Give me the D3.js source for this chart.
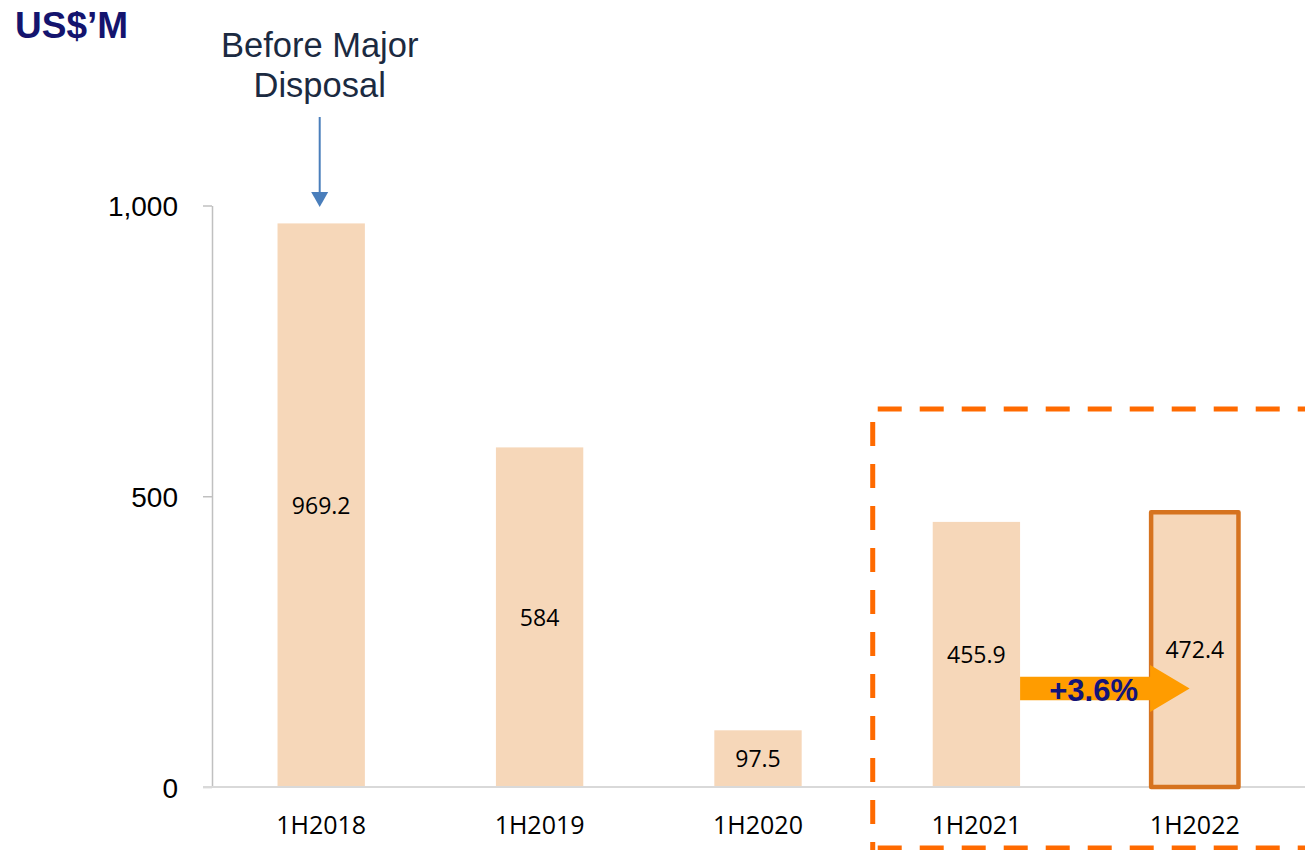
<!DOCTYPE html>
<html>
<head>
<meta charset="utf-8">
<script src="https://cdn.jsdelivr.net/npm/d3@7"></script>
<style>
  html, body { margin: 0; padding: 0; background: #fff; }
  svg { display: block; }
</style>
</head>
<body>
<svg id="chart" width="1305" height="850"></svg>
<script>
// ---- data ----
const categories = ["1H2018", "1H2019", "1H2020", "1H2021", "1H2022"];
const values = [969.2, 584, 97.5, 455.9, 472.4];
const valueLabels = ["969.2", "584", "97.5", "455.9", "472.4"];
const yTicks = [0, 500, 1000];
const unitLabel = "US$\u2019M";
const annotationLines = ["Before Major", "Disposal"];
const growthLabel = "+3.6%";

// ---- layout ----
const svg = d3.select("#chart");
const plotLeft = 212, plotRight = 1304, plotBottom = 787, plotTop = 205.5;

const x = d3.scaleBand().domain(categories).range([plotLeft, plotRight])
  .paddingInner(0.6).paddingOuter(0.3);
const y = d3.scaleLinear().domain([0, 1000]).range([plotBottom, plotTop]);

const barFill = "#f6d7b9";
const LS = "'Liberation Sans', Arial, sans-serif";
const CAL = "'Open Sans', 'Noto Sans', sans-serif";

// dashed highlight box (behind)
const boxLeft = x("1H2021") - 60;
const boxTop = y(650);
const dash = svg.append("g").attr("stroke", "#ff6a00").attr("stroke-width", 5)
  .attr("fill", "none").attr("stroke-dasharray", "24 18");
dash.append("line").attr("x1", boxLeft + 5).attr("x2", 1320).attr("y1", boxTop).attr("y2", boxTop);
dash.append("line").attr("x1", boxLeft).attr("x2", boxLeft).attr("y1", boxTop + 13).attr("y2", 860);
dash.append("line").attr("x1", boxLeft + 5).attr("x2", 1320).attr("y1", 848).attr("y2", 848);

// y axis
const yAxis = svg.append("g").attr("transform", `translate(${plotLeft},0)`)
  .call(d3.axisLeft(y).tickValues(yTicks).tickSizeInner(9).tickSizeOuter(0).tickPadding(25)
    .tickFormat(d3.format(",")));
yAxis.select(".domain").attr("stroke", "#c0c0c0").attr("stroke-width", 1.5);
yAxis.selectAll(".tick line").attr("stroke", "#c0c0c0").attr("stroke-width", 1.5);
yAxis.selectAll(".tick text").attr("font-family", LS).attr("font-size", 28)
  .attr("fill", "#000").attr("dy", "0.36em");

// bars
svg.append("g").selectAll("rect").data(values).join("rect")
  .attr("x", (d, i) => x(categories[i]))
  .attr("y", d => y(d))
  .attr("width", x.bandwidth())
  .attr("height", d => y(0) - y(d))
  .attr("fill", barFill);

// x axis
const xAxis = svg.append("g").attr("transform", `translate(0,${plotBottom})`)
  .call(d3.axisBottom(x).tickSize(0).tickPadding(0));
xAxis.select(".domain").remove();
xAxis.append("line").attr("x1", plotLeft - 9).attr("x2", 1305).attr("y1", 0).attr("y2", 0)
  .attr("stroke", "#d9d9d9").attr("stroke-width", 2);
xAxis.selectAll(".tick text").attr("font-family", CAL).attr("font-size", 25)
  .attr("fill", "#000").attr("y", 47).attr("dy", 0);

// highlight border on last bar
const last = categories.length - 1;
svg.append("rect")
  .attr("x", x(categories[last])).attr("y", y(values[last]))
  .attr("width", x.bandwidth()).attr("height", y(0) - y(values[last]))
  .attr("fill", "none").attr("stroke", "#d6731f").attr("stroke-width", 4.5)
  .attr("stroke-linejoin", "round");

// growth arrow
const ax0 = x(categories[3]) + x.bandwidth();
const axHead = x(categories[4]) - 1;
const axTip = axHead + 39.5;
const acy = 688.5;
svg.append("path")
  .attr("d", `M${ax0},${acy - 11.7} H${axHead} V${acy - 23.5} L${axTip},${acy} L${axHead},${acy + 23.5} V${acy + 11.7} H${ax0} Z`)
  .attr("fill", "#ff9c00");
svg.append("text").attr("x", (ax0 + axHead) / 2 + 8.5).attr("y", acy + 12.5)
  .attr("text-anchor", "middle").attr("font-family", LS).attr("font-weight", "bold")
  .attr("font-size", 31).attr("fill", "#14147a").text(growthLabel);

// value labels
svg.append("g").selectAll("text").data(values).join("text")
  .attr("x", (d, i) => x(categories[i]) + x.bandwidth() / 2)
  .attr("y", d => (y(d) + y(0)) / 2 + 8.5)
  .attr("text-anchor", "middle").attr("font-family", CAL).attr("font-size", 23)
  .attr("fill", "#000")
  .text((d, i) => valueLabels[i]);

// unit label
svg.append("text").attr("x", 15).attr("y", 38).attr("font-family", LS)
  .attr("font-weight", "bold").attr("font-size", 37).attr("fill", "#14146e").text(unitLabel);

// annotation
const annX = x(categories[0]) + x.bandwidth() / 2 - 1.5;
svg.append("g").selectAll("text").data(annotationLines).join("text")
  .attr("x", annX).attr("y", (d, i) => 57 + i * 40)
  .attr("text-anchor", "middle").attr("font-family", LS).attr("font-size", 34.5)
  .attr("fill", "#1b2a41").text(d => d);
svg.append("line").attr("x1", annX).attr("x2", annX).attr("y1", 117).attr("y2", 194)
  .attr("stroke", "#4a7ebb").attr("stroke-width", 2);
svg.append("path").attr("d", `M${annX - 8.5},192 L${annX + 8.5},192 L${annX},207 Z`)
  .attr("fill", "#4a7ebb");
</script>
</body>
</html>
